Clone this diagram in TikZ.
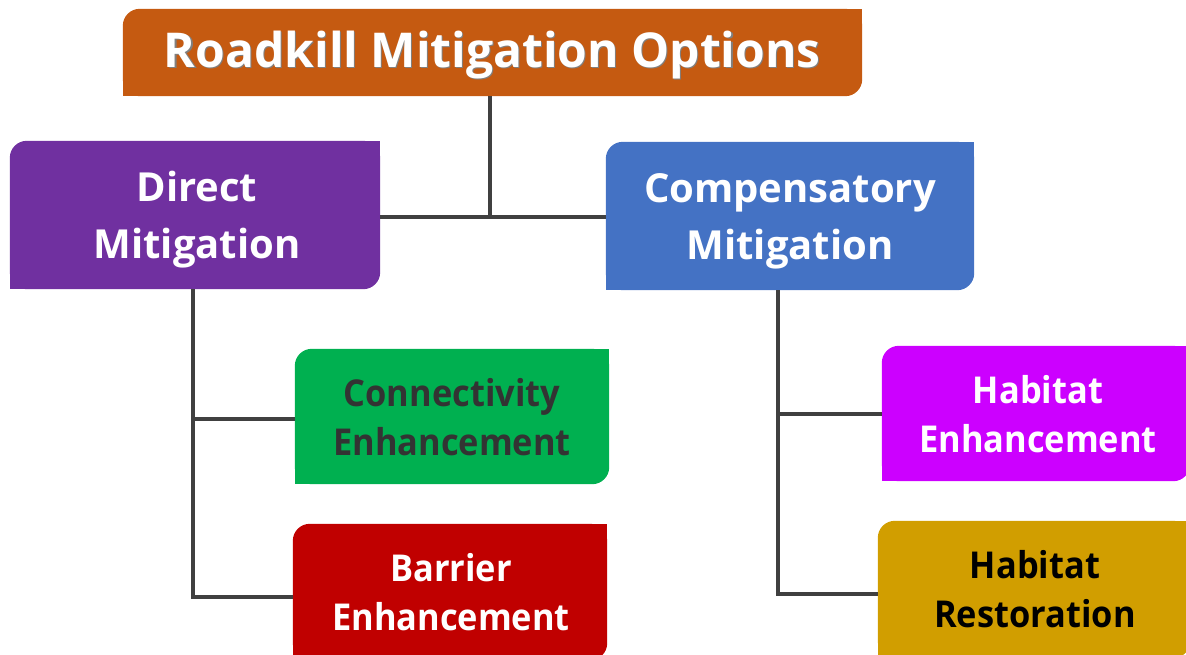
\documentclass[tikz,border=0pt]{standalone}
\usepackage{fontspec}
\setmainfont{Open Sans}
\newfontfamily\narrowfont[FakeStretch=0.93]{Open Sans}
\usetikzlibrary{backgrounds}
\definecolor{cTitle}{HTML}{C55A11}
\definecolor{cDirect}{HTML}{7030A0}
\definecolor{cComp}{HTML}{4472C4}
\definecolor{cConn}{HTML}{00B050}
\definecolor{cBarr}{HTML}{C00000}
\definecolor{cHabE}{HTML}{CC00FF}
\definecolor{cHabR}{HTML}{D19E00}
\definecolor{cLine}{HTML}{404040}
\definecolor{cDark}{HTML}{333333}
\newcommand\tlbrfill[2]{%
  \fill[#2, rounded corners=17pt] (#1.south west) rectangle (#1.north east);
  \fill[#2] (#1.north east) rectangle ++(-22,22);
  \fill[#2] (#1.south west) rectangle ++(22,-22);}
\begin{document}
\begin{tikzpicture}[x=1pt,y=-1pt,
  box/.style={inner sep=0pt, align=center, font=\fontsize{40}{57}\selectfont\bfseries},
  sbox/.style={inner sep=0pt, align=center, font=\narrowfont\fontsize{37}{48.5}\selectfont\bfseries},
  conn/.style={draw=cLine, line width=4pt}]
\useasboundingbox (0,0) rectangle (1186,654);
\node[box, minimum width=739pt, minimum height=87pt] (title) at (492.5,52.5) {};
\node[inner sep=0pt, text=gray, font=\fontsize{48}{58}\selectfont\bfseries] (titleshadow) at (493.5,56.5) {Roadkill Mitigation Options};
\node[inner sep=0pt, text=white, font=\fontsize{48}{58}\selectfont\bfseries] (titletext) at (492.3,55.3) {Roadkill Mitigation Options};
\node[box, text=white, minimum width=370pt, minimum height=148pt, text depth=0pt] (direct) at (195,215) {};
\node[box, text=white] (directtext) at (197,219.5) {Direct\\Mitigation};
\node[box, text=white, minimum width=368pt, minimum height=148pt] (comp) at (790,216) {};
\node[box, text=white] (comptext) at (790,221) {Compensatory\\Mitigation};
\node[sbox, text=cDark, minimum width=314pt, minimum height=135pt] (connect) at (452,416.5) {};
\node[sbox, text=cDark] (connecttext) at (452,417) {Connectivity\\Enhancement};
\node[sbox, text=white, minimum width=314pt, minimum height=136pt] (barrier) at (450,592) {};
\node[sbox, text=white] (barriertext) at (451,592) {Barrier\\Enhancement};
\node[sbox, text=white, minimum width=308pt, minimum height=135pt] (habe) at (1036,413.5) {};
\node[sbox, text=white] (habetext) at (1038,414) {Habitat\\Enhancement};
\node[sbox, text=black, minimum width=312pt, minimum height=137pt] (habr) at (1034,589.5) {};
\node[sbox, text=black] (habrtext) at (1035,589) {Habitat\\Restoration};
\begin{scope}[on background layer]
\tlbrfill{title}{cTitle}
\tlbrfill{direct}{cDirect}
\tlbrfill{comp}{cComp}
\tlbrfill{connect}{cConn}
\tlbrfill{barrier}{cBarr}
\tlbrfill{habe}{cHabE}
\tlbrfill{habr}{cHabR}
\end{scope}
\coordinate (J) at (490,217);
\coordinate (D) at (193,0);
\coordinate (C) at (778,0);
\draw[conn] (J |- title.south) -- (J);
\draw[conn] (direct.east |- J) -- (comp.west |- J);
\draw[conn] (D |- direct.south) -- (193,597) -- (barrier.west |- 0,597);
\draw[conn] (193,419) -- (connect.west |- 0,419);
\draw[conn] (C |- comp.south) -- (778,594) -- (habr.west |- 0,594);
\draw[conn] (778,414) -- (habe.west |- 0,414);
\end{tikzpicture}
\end{document}
